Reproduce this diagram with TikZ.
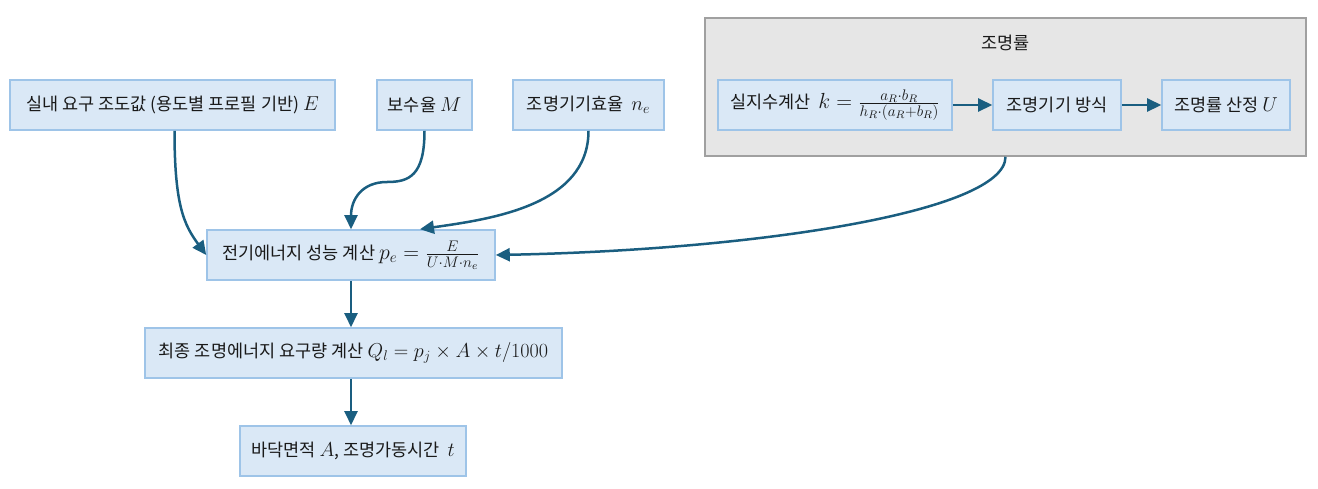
\documentclass[tikz,border=0pt]{standalone}
\usepackage{fontspec}
\usepackage{fix-cm}
\setmainfont{Noto Sans CJK KR}
\usetikzlibrary{arrows.meta,calc}
\definecolor{boxfill}{RGB}{218,232,246}
\definecolor{boxline}{RGB}{158,196,232}
\definecolor{grpfill}{RGB}{230,230,230}
\definecolor{grpline}{RGB}{160,160,160}
\definecolor{arr}{RGB}{26,94,128}
\definecolor{txt}{RGB}{25,25,25}
\newcommand{\mth}[1]{\scalebox{1.15}{$#1$}}
\newcommand{\mfr}[1]{\scalebox{1.25}{$#1$}}
\begin{document}
\begin{tikzpicture}[x=1pt,y=-1pt,
  bx/.style={draw=boxline,fill=boxfill,line width=1.6pt,minimum height=50pt,inner sep=0pt,
    text=txt,font=\fontsize{17.5}{21}\selectfont,anchor=center},
  grp/.style={draw=grpline,fill=grpfill,line width=1.6pt,minimum width=601pt,minimum height=138pt,inner sep=0pt},
  conn/.style={draw=arr,line width=2.5pt,-{Triangle[length=14pt,width=13pt]}}
]
\useasboundingbox (0,0) rectangle (1318,488);
\node[grp] (grp) at (1005.5,87) {};
\node[text=txt,font=\fontsize{17.5}{21}\selectfont] (grpt) at (1005.5,43) {조명률};
\node[bx,minimum width=325pt] (E) at (172.5,105) {실내 요구 조도값 (용도별 프로필 기반) \mth{E}};
\node[bx,minimum width=95pt] (M) at (424.5,105) {보수율 \mth{M}};
\node[bx,minimum width=151pt] (ne) at (588.5,105) {조명기기효율 \ \mth{n_e}};
\node[bx,minimum width=234pt] (k) at (835,105) {실지수계산 \ \mfr{k=\frac{a_R\cdot b_R}{h_R\cdot(a_R+b_R)}}};
\node[bx,minimum width=128pt] (way) at (1057,105) {조명기기 방식};
\node[bx,minimum width=128pt] (U) at (1226,105) {조명률 산정 \mth{U}};
\node[bx,minimum width=288pt] (pe) at (351,255) {전기에너지 성능 계산 \mfr{p_e=\frac{E}{U\cdot M\cdot n_e}}};
\node[bx,minimum width=417pt] (Ql) at (353.5,353) {최종 조명에너지 요구량 계산 \mth{Q_l=p_j\times A\times t/1000}};
\node[bx,minimum width=226pt] (At) at (353,451) {바닥면적 \mth{A}, 조명가동시간 \ \mth{t}};
\coordinate (mmid) at (387,182);
\coordinate (pein) at ($(pe.north)+(69,0)$);
\draw[conn] (k.east) -- (way.west);
\draw[conn] (way.east) -- (U.west);
\draw[conn] ($(E.south)+(2,0)$) .. controls +(0,75) and +(-22,-30) .. (pe.west);
\draw[conn] (M.south) .. controls +(0,45) and +(22,0) .. (mmid) .. controls +(-25,0) and +(0,-30) .. (pe.north);
\draw[conn] (ne.south) .. controls +(0,75) and +(70,-10) .. (pein);
\draw[conn] (grp.south) .. controls +(0,55) and +(260,-5) .. (pe.east);
\draw[conn] (pe.south) -- (pe.south |- Ql.north);
\draw[conn] (pe.south |- Ql.south) -- (pe.south |- At.north);
\end{tikzpicture}
\end{document}
